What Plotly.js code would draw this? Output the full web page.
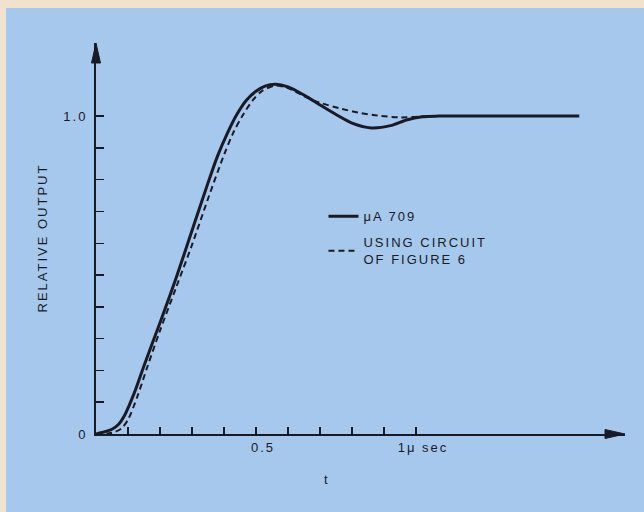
<!DOCTYPE html>
<html><head><meta charset="utf-8">
<script src="https://cdn.plot.ly/plotly-3.0.1.min.js"></script>
<style>
html,body{margin:0;padding:0;background:#f1e2cd;width:644px;height:512px;overflow:hidden}
#chart{position:absolute;left:6px;top:8px;width:638px;height:504px}
text{letter-spacing:2px}
</style></head><body><div id="chart"></div>
<script>
// ---- data ----
const tSolid = [0, 0.03, 0.05, 0.07, 0.09, 0.12, 0.15, 0.2, 0.25, 0.3, 0.35, 0.38, 0.41, 0.44, 0.47, 0.5, 0.53, 0.56, 0.6, 0.65, 0.7, 0.75, 0.8, 0.86, 0.92, 0.97, 1.02, 1.07, 1.2, 1.51];
const ySolid = [0, 0.008, 0.015, 0.03, 0.06, 0.13, 0.215, 0.35, 0.49, 0.64, 0.79, 0.875, 0.945, 1.005, 1.05, 1.078, 1.095, 1.1, 1.092, 1.066, 1.035, 1.005, 0.978, 0.963, 0.97, 0.988, 0.998, 1.0, 1.0, 1.0];
const tDash = [0, 0.04, 0.06, 0.08, 0.1, 0.13, 0.16, 0.2, 0.25, 0.3, 0.35, 0.4, 0.43, 0.46, 0.49, 0.52, 0.56, 0.6, 0.66, 0.7, 0.76, 0.82, 0.88, 0.95, 1.04];
const yDash = [0, 0.002, 0.007, 0.018, 0.045, 0.12, 0.21, 0.325, 0.46, 0.595, 0.74, 0.878, 0.95, 1.005, 1.05, 1.08, 1.096, 1.088, 1.058, 1.042, 1.025, 1.011, 1.002, 0.996, 1.0];
const seriesNames = ['μA 709', 'USING CIRCUIT<br>OF FIGURE 6'];
const yTickVals = [0, 0.1, 0.2, 0.3, 0.4, 0.5, 0.6, 0.7, 0.8, 0.9, 1.0];
const yTickText = ['0', '', '', '', '', '', '', '', '', '', '1.0'];
const xTickVals = [0.1, 0.2, 0.3, 0.4, 0.5, 0.6, 0.7, 0.8, 0.9, 1.0];
const xTickText = ['', '', '', '', '0.5', '', '', '', '', '1μ sec'];
const yAxisLabel = 'RELATIVE OUTPUT';
const xAxisLabel = 't';

// ---- layout constants ----
const W = 638, H = 504;
const M = {l: 90, r: 19, t: 35, b: 78};
const xMax = 1.653, yMax = 1.23;
const ink = '#1a1a26';
const bg = '#a6c8ec';
const font = {family: '"Liberation Sans", Arial, sans-serif', size: 13, color: ink};
const pw = W - M.l - M.r, ph = H - M.t - M.b;

const traces = [
  {x: tSolid, y: ySolid, name: seriesNames[0], mode: 'lines', legendgroup: 'a',
   line: {color: ink, width: 3, shape: 'spline', smoothing: 0.8}},
  {x: tDash, y: yDash, name: seriesNames[1], mode: 'lines', legendgroup: 'b',
   line: {color: ink, width: 2, dash: '6px,4px', shape: 'spline', smoothing: 0.8}}
];

// arrowheads at the axis ends (paper coordinates derived from pixel sizes)
const ahLenX = 20 / pw, ahHwX = 4.5 / ph;
const ahLenY = 20 / ph, ahHwY = 4.5 / pw;
const shapes = [
  {type: 'path', xref: 'paper', yref: 'paper', fillcolor: ink, line: {color: ink, width: 1},
   path: `M 1.0,0 L ${1 - ahLenX},${ahHwX} L ${1 - ahLenX},${-ahHwX} Z`},
  {type: 'path', xref: 'paper', yref: 'paper', fillcolor: ink, line: {color: ink, width: 1},
   path: `M 0,1.0 L ${-ahHwY},${1 - ahLenY} L ${ahHwY},${1 - ahLenY} Z`}
];

const layout = {
  width: W, height: H,
  margin: M,
  paper_bgcolor: bg, plot_bgcolor: bg,
  font: font,
  showlegend: true,
  legend: {x: 0.43, y: 0.595, xanchor: 'left', yanchor: 'top', bgcolor: 'rgba(0,0,0,0)',
           font: font, itemwidth: 30, traceorder: 'grouped', tracegroupgap: 6},
  xaxis: {range: [0, xMax], showgrid: false, zeroline: false, showline: true,
          linecolor: ink, linewidth: 2, ticks: 'inside', ticklen: 7, tickwidth: 1.5,
          tickcolor: ink, tickmode: 'array', tickvals: xTickVals, ticktext: xTickText,
          ticklabelshift: 7, fixedrange: true},
  yaxis: {range: [0, yMax], showgrid: false, zeroline: false, showline: true,
          linecolor: ink, linewidth: 2, ticks: 'inside', ticklen: 8, tickwidth: 1.5,
          tickcolor: ink, tickmode: 'array', tickvals: yTickVals, ticktext: yTickText,
          ticklabelstandoff: 4, fixedrange: true},
  shapes: shapes,
  annotations: [
    {text: yAxisLabel, xref: 'paper', yref: 'paper', x: 0, y: 0.5, xshift: -54,
     textangle: -90, showarrow: false, font: font, xanchor: 'center', yanchor: 'middle'},
    {text: xAxisLabel, xref: 'paper', yref: 'paper', x: (327 - 96) / pw, y: 0, yshift: -45,
     showarrow: false, font: font, xanchor: 'center', yanchor: 'middle'}
  ]
};

Plotly.newPlot('chart', traces, layout, {displayModeBar: false, staticPlot: true});
</script></body></html>
